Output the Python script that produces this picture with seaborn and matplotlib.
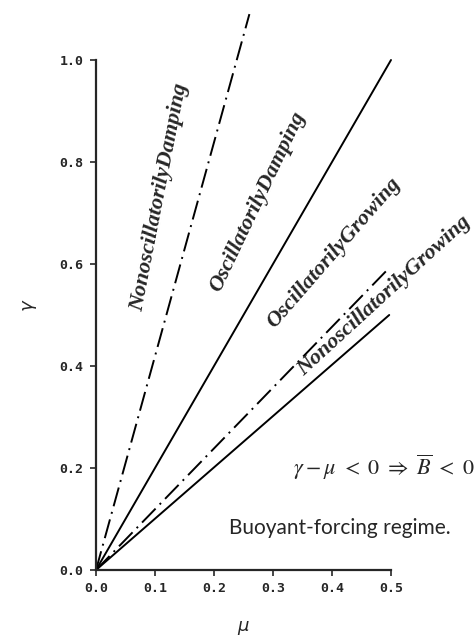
import matplotlib
matplotlib.use("Agg")
import matplotlib.pyplot as plt
import seaborn as sns
import pandas as pd

# Boundary lines (start and end points)
mu_nd = [0.0, 0.26]
gamma_nd = [0.0, 1.09]
mu_od = [0.0, 0.5]
gamma_od = [0.0, 1.0]
mu_og = [0.0, 0.495]
gamma_og = [0.0, 0.59]
mu_ng = [0.0, 0.497]
gamma_ng = [0.0, 0.50]

x_ticks = [0.0, 0.1, 0.2, 0.3, 0.4, 0.5]
y_ticks = [0.0, 0.2, 0.4, 0.6, 0.8, 1.0]

region_labels = ["NonoscillatorilyDamping", "OscillatorilyDamping",
                 "OscillatorilyGrowing", "NonoscillatorilyGrowing"]

sns.set_style("ticks")
plt.rcParams['font.family'] = ['DejaVu Sans']

fig = plt.figure(figsize=(4.77, 6.41), dpi=100)
ax = fig.add_axes([96/477, 1 - 570/641, 295/477, 510/641])

lines = [
    (mu_nd, gamma_nd, (0, (10, 3, 1, 3))),
    (mu_od, gamma_od, "solid"),
    (mu_og, gamma_og, (0, (10, 3, 1, 3))),
    (mu_ng, gamma_ng, "solid"),
]
for mu, gam, ls in lines:
    df = pd.DataFrame({"mu": mu, "gamma": gam})
    sns.lineplot(data=df, x="mu", y="gamma", ax=ax, color="black",
                 linewidth=1.4, linestyle=ls, estimator=None, sort=False,
                 clip_on=False)

ax.set_xlim(0, 0.5)
ax.set_ylim(0, 1.0)
ax.set_xticks(x_ticks)
ax.set_yticks(y_ticks)
tick_font = dict(fontsize=9.5, fontweight="bold", family="DejaVu Sans Mono")
ax.set_xticklabels([f"{v:.1f}" for v in x_ticks], **tick_font)
ax.set_yticklabels([f"{v:.1f}" for v in y_ticks], **tick_font)
ax.tick_params(direction="out", length=4, width=1.2, pad=5)
for s in ["left", "bottom"]:
    ax.spines[s].set_linewidth(1.6)
sns.despine(ax=ax)

ax.set_xlabel("")
ax.set_ylabel("")
ax.text(-0.224, 0.52, r"$\gamma$", transform=ax.transAxes, fontsize=13,
        ha="center", va="center", rotation=90)
ax.text(0.50, -0.114, r"$\mu$", transform=ax.transAxes, fontsize=13,
        ha="center", va="center")

label_pos = [(0.108, 0.731, 79), (0.274, 0.722, 64.5),
             (0.403, 0.622, 49), (0.488, 0.537, 42.5)]
for txt, (x, y, rot) in zip(region_labels, label_pos):
    ax.text(x, y, txt, rotation=rot, rotation_mode="anchor", ha="center",
            va="center", fontsize=16, fontstyle="italic", fontweight="bold",
            family="Liberation Serif")

ax.text(0.488, 0.202,
        r"$\gamma - \mu\ <\ 0\ \Rightarrow\ \overline{B}\ <\ 0$",
        ha="center", va="center", fontsize=16, math_fontfamily="stix")
ax.text(0.413, 0.082, "Buoyant-forcing regime.", ha="center", va="center",
        fontsize=15, family="Lato")

fig.savefig("out.png", dpi=100)
